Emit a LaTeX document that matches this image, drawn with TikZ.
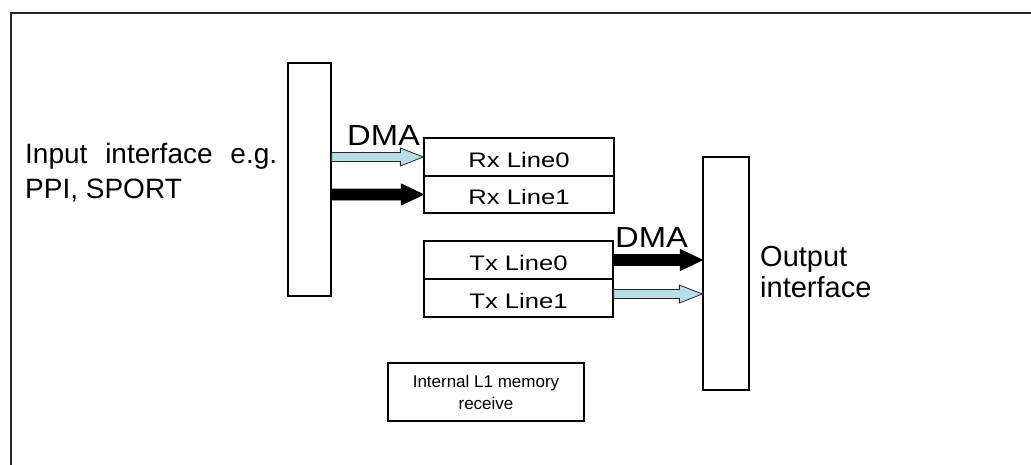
\documentclass[tikz,border=0pt]{standalone}
\usepackage{fontspec}
\setmainfont{Liberation Sans}
\usetikzlibrary{calc}
\definecolor{dmablue}{RGB}{183,222,228}
\newcommand{\widetext}[2]{\scalebox{#1}[1]{#2}}
\begin{document}
\begin{tikzpicture}[x=1pt,y=-1pt,
  bar/.style={draw, line width=1.3pt, inner sep=0pt, minimum height=233pt},
  linebox/.style={draw, line width=1.3pt, inner sep=0pt, minimum width=190pt, minimum height=38pt,
    font=\fontsize{21}{25}\selectfont, text height=20pt, text depth=0pt},
  membox/.style={draw, line width=1.3pt, inner sep=0pt, minimum width=196pt, minimum height=58pt,
    align=center, font=\fontsize{17}{22}\selectfont},
  big/.style={inner sep=0pt, font=\fontsize{28}{35}\selectfont},
  blockarrow/.style n args={3}{to path={let \p1=(\tikztostart), \p2=(\tikztotarget) in
    (\x1,{\y1+#1}) -- ({\x2-#3},{\y1+#1}) -- ({\x2-#3},{\y1+#2}) -- (\x2,\y1)
    -- ({\x2-#3},{\y1-#2}) -- ({\x2-#3},{\y1-#1}) -- (\x1,{\y1-#1}) -- cycle}},
  bluearrow/.style={fill=dmablue, draw=black!85, line width=0.8pt, line join=miter, blockarrow={4.5pt}{9pt}{23pt}},
  blackarrow/.style={fill=black, draw=black, line width=0.8pt, line join=miter, blockarrow={5.5pt}{10.5pt}{22pt}},
  frame/.style={draw=black!85, line width=2pt}
]
\useasboundingbox (0,0) rectangle (1031,464);
% open frame
\coordinate (fbl) at (11,470);
\coordinate (ftl) at (11,13);
\coordinate (ftr) at (1040,13);
\draw[frame] (fbl) -- (ftl) -- (ftr);

% bars
\node[bar, minimum width=43pt] (inbar) at (309.5,179.5) {};
\node[bar, minimum width=46pt] (outbar) at (726,273.5) {};

% line buffers
\node[linebox] (rx0) at (519,157) {\widetext{1.22}{Rx Line0}};
\node[linebox, minimum height=37pt] (rx1) at (519,194.5) {\widetext{1.22}{Rx Line1}};
\node[linebox, minimum width=189pt] (tx0) at (518.5,260) {\widetext{1.22}{Tx Line0}};
\node[linebox, minimum width=189pt] (tx1) at (518.5,298) {\widetext{1.22}{Tx Line1}};
\coordinate (tx1out) at ([yshift=4pt]tx1.east);

% memory box
\node[membox] (mem) at (486,392) {Internal L1 memory\\receive};

% labels
\node[big, anchor=north west, text width=252pt, align=justify] (inlabel) at (25,143)
  {Input interface e.g. PPI, SPORT};
\node[big, anchor=north west, align=left, font=\fontsize{29}{31}\selectfont] (outlabel) at (760,246)
  {Output\\interface};
\node[big, anchor=base west, font=\fontsize{29}{35}\selectfont] (dma1) at (347,145) {\widetext{1.13}{DMA}};
\node[big, anchor=base west, font=\fontsize{29}{35}\selectfont] (dma2) at (615,247) {\widetext{1.13}{DMA}};

% arrows (the path takes its height from the start point, its tip from the end point)
\draw[bluearrow] (inbar.east |- rx0.west) to (rx0.west);
\draw[blackarrow] (inbar.east |- rx1.west) to (rx1.west);
\draw[blackarrow] (tx0.east) to (outbar.west);
\draw[bluearrow] (tx1out) to (outbar.west);
\end{tikzpicture}
\end{document}
